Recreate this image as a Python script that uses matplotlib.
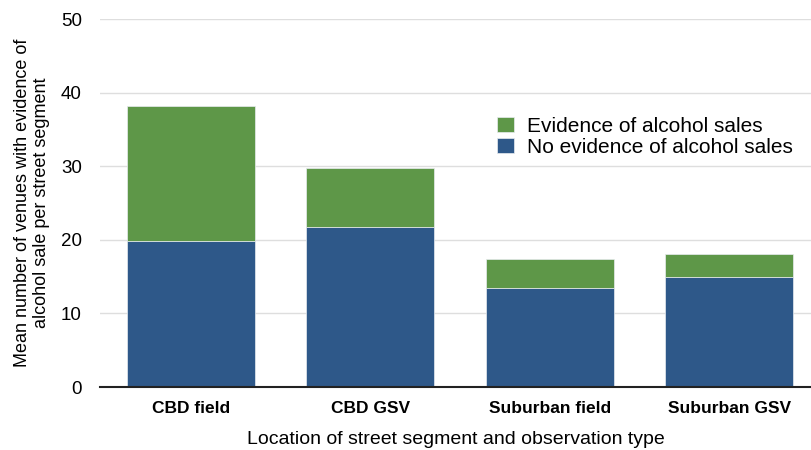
import matplotlib.pyplot as plt
import numpy as np

plt.rcParams['font.family'] = ['Liberation Sans', 'DejaVu Sans']

categories = ['CBD field', 'CBD GSV', 'Suburban field', 'Suburban GSV']
no_evidence = [19.8, 21.8, 13.5, 14.9]
evidence_total = [38.15, 29.7, 17.4, 18.1]
evidence = [t - n for t, n in zip(evidence_total, no_evidence)]

green = '#5e9748'
blue = '#2e5889'

fig = plt.figure(figsize=(8.11, 4.5), dpi=100)
ax = fig.add_axes([100 / 811, 63 / 450, 711 / 811, 368 / 450])

x = np.arange(len(categories))
w = 0.713
ax.bar(x, no_evidence, w, color=blue, label='No evidence of alcohol sales', zorder=3,
       edgecolor='#e8ecf0', linewidth=0.5)
ax.bar(x, evidence, w, bottom=no_evidence, color=green, label='Evidence of alcohol sales',
       zorder=3, edgecolor='#e8ecf0', linewidth=0.5)

ax.set_ylim(0, 50)
ax.set_xlim(-0.505, 3.455)
ax.set_yticks(range(0, 51, 10))
ax.yaxis.grid(True, color='#dedede', linewidth=1, zorder=0)
for s in ['top', 'right', 'left']:
    ax.spines[s].set_visible(False)
ax.spines['bottom'].set_color('#222222')
ax.spines['bottom'].set_linewidth(1.5)
ax.spines['bottom'].set_zorder(4)
ax.tick_params(axis='both', length=0)
ax.tick_params(axis='y', labelsize=13.5, pad=13)
ax.tick_params(axis='x', pad=10)
ax.set_xticks(x)
ax.set_xticklabels(categories, fontsize=12.5, fontweight='bold')

ax.set_xlabel('Location of street segment and observation type', fontsize=14, labelpad=11)
ax.set_ylabel('Mean number of venues with evidence of\nalcohol sale per street segment',
              fontsize=13, labelpad=8, linespacing=1.15)

handles, labels = ax.get_legend_handles_labels()
ax.legend(handles[::-1], labels[::-1], loc='upper left', bbox_to_anchor=(0.558, 0.734),
          frameon=False, fontsize=15, handlelength=0.85, handleheight=0.75,
          handletextpad=0.6, labelspacing=0.08, borderpad=0, borderaxespad=0)

fig.savefig('out.png', dpi=100)
